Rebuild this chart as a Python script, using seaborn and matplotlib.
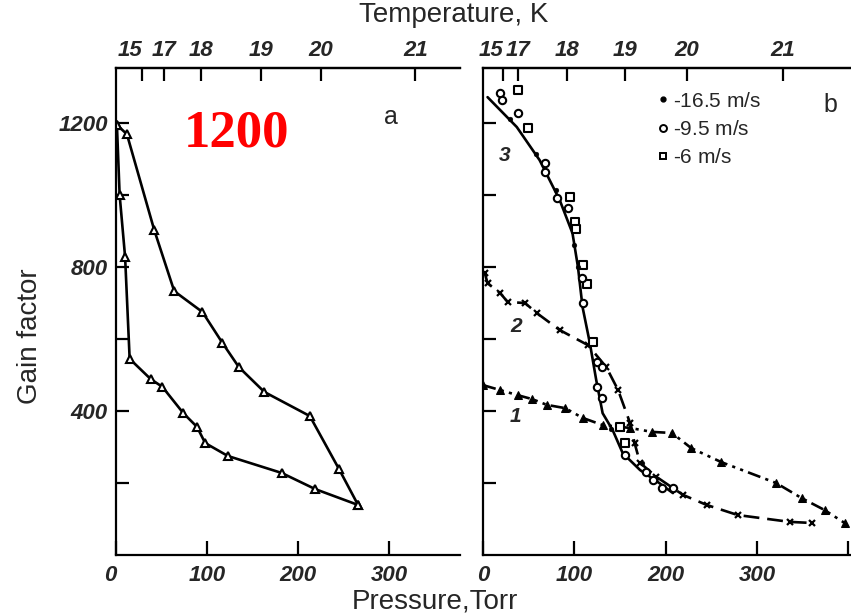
import numpy as np
import pandas as pd
import matplotlib
matplotlib.use("Agg")
import matplotlib.pyplot as plt
import seaborn as sns
from matplotlib.lines import Line2D

# --- panel a: gain factor vs pressure (loop) ---
a_up_p = [1, 12, 42, 64, 95, 117, 135, 163, 213, 245, 266]
a_up_g = [1195, 1169, 903, 733, 675, 589, 522, 453, 386, 239, 139]
a_lo_p = [1, 4, 10, 15, 38, 51, 74, 89, 98, 123, 182, 219, 266]
a_lo_g = [1195, 1000, 828, 545, 489, 467, 394, 356, 311, 275, 228, 183, 139]

# --- panel b ---
c3_p = [5, 37, 62, 84, 98, 104, 109, 117, 124, 131, 142, 153, 172, 193, 208]
c3_g = [1272, 1189, 1097, 986, 894, 800, 689, 589, 486, 394, 347, 283, 236, 200, 172]

sq_p = [38, 49, 95, 101, 102, 109, 114, 120, 150, 155]
sq_g = [1292, 1186, 995, 925, 905, 805, 752, 592, 356, 311]
ci_p = [19, 21, 38, 68, 68, 81, 93, 108, 109, 125, 130, 125, 130, 155, 179, 186, 196, 208]
ci_g = [1283, 1264, 1228, 1090, 1064, 991, 963, 770, 700, 536, 522, 467, 436, 278, 231, 208, 186, 186]
dot_p = [30, 58, 80, 100, 104, 140, 174]
dot_g = [1210, 1115, 1014, 860, 800, 350, 256]

c2_p = [2, 5, 19, 27, 46, 59, 84, 115, 135, 148, 161, 166, 172, 190, 219, 245, 279, 336, 360]
c2_g = [783, 755, 727, 703, 700, 672, 625, 583, 522, 458, 367, 311, 256, 217, 167, 139, 111, 92, 89]

c1_p = [0, 19, 38, 54, 70, 90, 109, 131, 150, 161, 185, 207, 228, 261, 321, 349, 374, 396]
c1_g = [472, 458, 444, 433, 417, 408, 381, 361, 356, 353, 342, 339, 297, 258, 200, 158, 125, 89]

temp_labels = ["15", "17", "18", "19", "20", "21"]
temp_pos_a = [28.6, 52.7, 93.4, 159, 225, 329]
temp_pos_b = [22, 38, 92, 155, 223, 328]

y_major = [400, 800, 1200]
y_minor = [200, 600, 1000]
x_ticks = [0, 100, 200, 300]

sns.set_theme(style="white")
plt.rcParams['font.family'] = ['Liberation Sans', 'DejaVu Sans']
plt.rcParams['mathtext.fontset'] = 'custom'
plt.rcParams['mathtext.it'] = 'Liberation Sans:italic:bold'
plt.rcParams['mathtext.rm'] = 'Liberation Sans'

fig = plt.figure(figsize=(8.51, 6.16), dpi=100)
ax_a = fig.add_axes([116 / 851, 1 - 555 / 616, (460 - 116) / 851, (555 - 68) / 616])
ax_b = fig.add_axes([483 / 851, 1 - 555 / 616, (851 - 483) / 851, (555 - 68) / 616])

tick_font = dict(family='Liberation Sans', style='italic', weight='bold', size=16)
line_kw = dict(color='black', linewidth=1.9, sort=False, estimator=None)

# panel a
sns.lineplot(x=a_up_p, y=a_up_g, ax=ax_a, marker='^', markersize=6,
             markerfacecolor='white', markeredgecolor='black', markeredgewidth=1.5, **line_kw)
sns.lineplot(x=a_lo_p, y=a_lo_g, ax=ax_a, marker='^', markersize=6,
             markerfacecolor='white', markeredgecolor='black', markeredgewidth=1.5, **line_kw)

# panel b
sns.lineplot(x=c3_p, y=c3_g, ax=ax_b, **line_kw)
sns.lineplot(x=c2_p, y=c2_g, ax=ax_b, marker='x', markersize=5, markeredgewidth=1.6,
             markeredgecolor='black', linestyle=(0, (6, 3)), **line_kw)
sns.lineplot(x=c1_p, y=c1_g, ax=ax_b, marker='^', markersize=5.5, markerfacecolor='black',
             markeredgecolor='black', linestyle=(0, (5, 2, 1.2, 2, 1.2, 2)), **line_kw)
sns.scatterplot(x=sq_p, y=sq_g, ax=ax_b, marker='s', s=28, facecolor='white',
                edgecolor='black', linewidth=1.5, zorder=3)
sns.scatterplot(x=ci_p, y=ci_g, ax=ax_b, marker='o', s=28, facecolor='white',
                edgecolor='black', linewidth=1.5, zorder=3)
sns.scatterplot(x=dot_p, y=dot_g, ax=ax_b, marker='o', s=12, color='black',
                edgecolor='black', zorder=3)

for ax, xmax, tpos in [(ax_a, 378, temp_pos_a), (ax_b, 403, temp_pos_b)]:
    ax.set_xlim(0, xmax)
    ax.set_ylim(0, 1353)
    ax.set_facecolor('white')
    for side in ['top', 'left', 'bottom']:
        ax.spines[side].set_visible(True)
        ax.spines[side].set_color('black')
        ax.spines[side].set_linewidth(1.6)
    ax.spines['right'].set_visible(False)
    ax.set_yticks(y_major)
    ax.set_yticks(y_minor, minor=True)
    ax.tick_params(axis='both', which='both', direction='in', color='black',
                   width=1.6, left=True, bottom=True)
    ax.tick_params(axis='x', which='major', length=10, pad=7)
    ax.tick_params(axis='y', which='both', length=9, pad=6)
    ax2 = ax.twiny()
    ax2.set_xlim(ax.get_xlim())
    ax2.set_xticks(tpos)
    ax2.set_xticklabels(temp_labels, fontdict=tick_font)
    ax2.tick_params(axis='x', direction='in', length=9, width=1.6, color='black', pad=5, top=True)
    # first label sits left of its tick, as in the original print
    ax2.get_xticklabels()[0].set_horizontalalignment('right')
    for side in ['left', 'right', 'bottom']:
        ax2.spines[side].set_visible(False)
    ax2.spines['top'].set_linewidth(1.6)
    ax2.spines['top'].set_color('black')
    ax2.grid(False)
    ax.grid(False)

ax_a.set_xticks(x_ticks)
ax_a.set_xticklabels([str(v) for v in x_ticks], fontdict=tick_font)
ax_a.get_xticklabels()[0].set_horizontalalignment('right')
ax_a.set_yticklabels([str(v) for v in y_major], fontdict=tick_font)
ax_b.set_xticks(x_ticks + [400])
ax_b.set_xticklabels([str(v) for v in x_ticks] + [""], fontdict=tick_font)
ax_b.set_yticklabels([])

# panel letters and curve labels
ax_a.text(0.8, 0.9, "a", transform=ax_a.transAxes, fontsize=18, ha='center', va='center')
ax_b.text(0.945, 0.925, "b", transform=ax_b.transAxes, fontsize=18, ha='center', va='center')
ax_a.text(0.35, 0.865, "1200", transform=ax_a.transAxes, fontsize=38, fontweight='bold',
          family='Liberation Serif', color='red', ha='center', va='center')
for lab, xx, yy in [("3", 0.06, 0.82), ("2", 0.09, 0.47), ("1", 0.087, 0.285)]:
    ax_b.text(xx, yy, lab, transform=ax_b.transAxes, fontsize=15, style='italic',
              fontweight='bold', ha='center', va='center')

handles = [Line2D([], [], marker='o', markersize=3.5, color='black', linestyle='none'),
           Line2D([], [], marker='o', markersize=5, markerfacecolor='white',
                  markeredgecolor='black', markeredgewidth=1.4, linestyle='none'),
           Line2D([], [], marker='s', markersize=5, markerfacecolor='white',
                  markeredgecolor='black', markeredgewidth=1.4, linestyle='none')]
ax_b.legend(handles, [r"-$\mathit{16.5}$ m/s", r"-$\mathit{9.5}$ m/s", r"-$\mathit{6}$ m/s"],
            loc='upper left', bbox_to_anchor=(0.42, 0.99), frameon=False, fontsize=15,
            handlelength=0.6, handletextpad=0.2, labelspacing=0.45)

fig.text(454 / 851, 1 - 15 / 616, "Temperature, K", fontsize=20, ha='center', va='center')
fig.text(435 / 851, 1 - 601 / 616, "Pressure,Torr", fontsize=20, ha='center', va='center')
fig.text(30 / 851, 1 - 336 / 616, "Gain factor", fontsize=20, rotation=90, ha='center', va='center')

fig.savefig("out.png", dpi=100, facecolor='white')
